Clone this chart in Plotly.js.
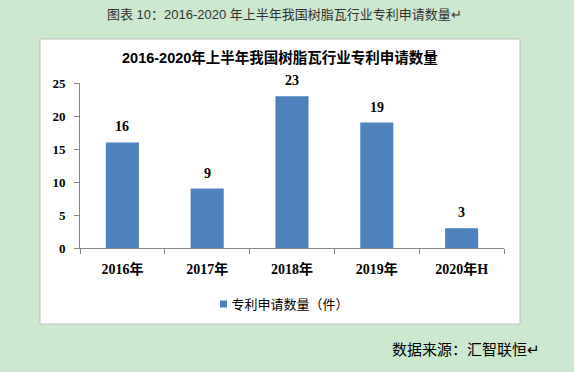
<!DOCTYPE html>
<html><head><meta charset="utf-8">
<script src="https://cdn.plot.ly/plotly-3.0.1.min.js"></script>
<style>html,body{margin:0;padding:0;background:#cce8cf;}#c{width:574px;height:372px;}</style>
</head><body><div id="c"></div>
<script>
const categories = ["2016年","2017年","2018年","2019年","2020年H"];
const values = [16, 9, 23, 19, 3];
const seriesName = "专利申请数量（件）";
const chartTitle = "2016-2020年上半年我国树脂瓦行业专利申请数量";
const caption = "图表 10：2016-2020 年上半年我国树脂瓦行业专利申请数量↵";
const source = "数据来源：汇智联恒↵";

const W = 574, H = 372;
const px = x => x / W, py = y => 1 - y / H;
const SERIF = "Liberation Serif, Noto Sans CJK SC, serif";
const CJK = "Liberation Sans, Noto Sans CJK SC, sans-serif";

const trace = {
  type: "bar", x: categories, y: values, name: seriesName,
  marker: {color: "#4f81bd"},
  hoverinfo: "none"
};

const labelAnns = categories.map((c, i) => ({
  x: c, y: values[i], xref: "x", yref: "y", text: String(values[i]),
  showarrow: false, xanchor: "center", yanchor: "bottom", yshift: 6,
  font: {family: SERIF, size: 14, color: "#000", weight: "bold"}
}));

const layout = {
  width: W, height: H,
  margin: {l: 0, r: 0, t: 0, b: 0},
  paper_bgcolor: "#cce8cf", plot_bgcolor: "rgba(0,0,0,0)",
  font: {family: CJK, color: "#000"},
  bargap: 0.61,
  xaxis: {
    domain: [px(80), px(504)], showline: true, linecolor: "#868686", linewidth: 1,
    ticks: "outside", tickson: "boundaries", ticklen: 5, tickcolor: "#868686",
    ticklabelstandoff: 8,
    tickfont: {family: SERIF, size: 14, color: "#000", weight: "bold"},
    showgrid: false, zeroline: false, fixedrange: true
  },
  yaxis: {
    domain: [py(248), py(83)], range: [0, 25], dtick: 5,
    showline: true, linecolor: "#868686", linewidth: 1,
    ticks: "outside", ticklen: 5, tickcolor: "#868686",
    ticklabelstandoff: 6,
    tickfont: {family: SERIF, size: 13, color: "#000", weight: "bold"},
    showgrid: false, zeroline: false, fixedrange: true
  },
  showlegend: true,
  legend: {
    orientation: "h", x: px(273), y: py(304), xanchor: "center", yanchor: "middle",
    itemwidth: 30,
    font: {family: CJK, size: 13, color: "#000"}, bgcolor: "rgba(0,0,0,0)"
  },
  shapes: [{
    type: "rect", xref: "paper", yref: "paper", layer: "below",
    x0: px(40), x1: px(520), y0: py(324), y1: py(39),
    fillcolor: "#ffffff", line: {color: "#bfbfbf", width: 1}
  }],
  annotations: labelAnns.concat([
    {text: chartTitle, xref: "paper", yref: "paper", x: px(280), y: py(58),
     xanchor: "center", yanchor: "middle", showarrow: false,
     font: {family: CJK, size: 14.5, color: "#000", weight: "bold"}},
    {text: caption, xref: "paper", yref: "paper", x: px(284), y: py(15),
     xanchor: "center", yanchor: "middle", showarrow: false,
     font: {family: CJK, size: 13, color: "#333"}},
    {text: source, xref: "paper", yref: "paper", x: px(542), y: py(349),
     xanchor: "right", yanchor: "middle", showarrow: false,
     font: {family: CJK, size: 15, color: "#000"}}
  ])
};

Plotly.newPlot("c", [trace], layout, {displayModeBar: false, staticPlot: true}).then(gd => {
  gd.querySelectorAll(".legendpoints path").forEach(p => {
    p.setAttribute("d", "M3.5,3.5H-3.5V-3.5H3.5Z");
    const t = p.getAttribute("transform") || "";
    p.setAttribute("transform", t + " translate(12,0)");
  });
});
</script></body></html>
